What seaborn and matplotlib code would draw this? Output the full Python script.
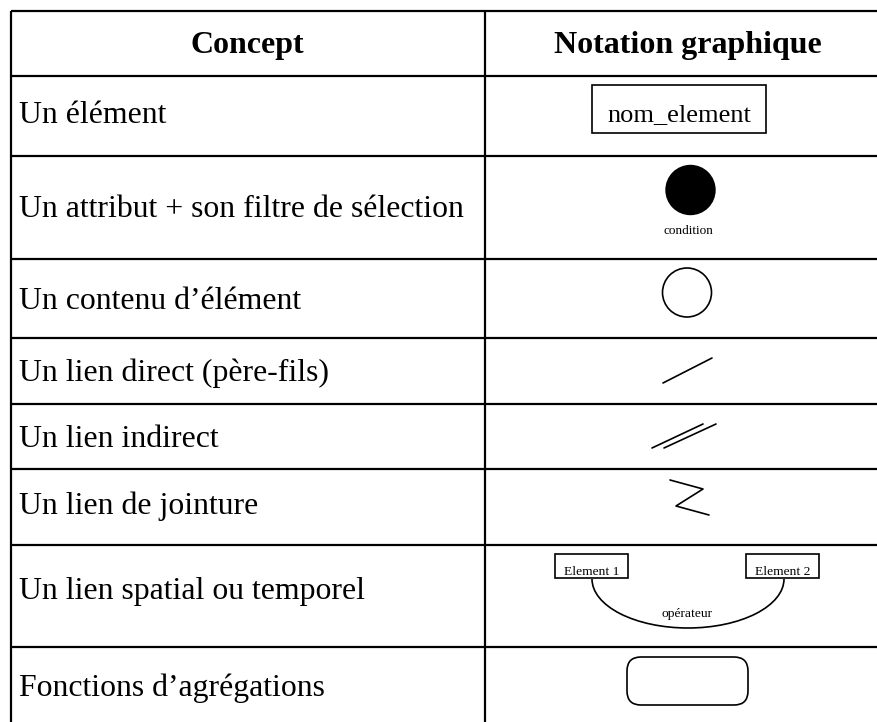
import matplotlib
matplotlib.use("Agg")
import matplotlib.pyplot as plt
import seaborn as sns
from matplotlib.patches import Rectangle, Circle, FancyBboxPatch, Arc

# ---- content ----
headers = ["Concept", "Notation graphique"]
concepts = [
    "Un élément",
    "Un attribut + son filtre de sélection",
    "Un contenu d\u2019élément",
    "Un lien direct (père-fils)",
    "Un lien indirect",
    "Un lien de jointure",
    "Un lien spatial ou temporel",
    "Fonctions d\u2019agrégations",
]
element_label = "nom_element"
condition_label = "condition"
spatial_labels = ["Element 1", "Element 2"]
operator_label = "opérateur"

# ---- layout (pixel coordinates) ----
W, H = 877, 722
row_edges = [11, 76, 156, 259, 338, 404, 469, 545, 647, 730]
x_left, x_mid, x_right = 11, 484.5, 891
baselines = [123, 217, 309, 381, 447, 514, 599, 696]
header_baseline = 53

sns.set_theme(style="white")
plt.rcParams['font.family'] = ['Liberation Serif', 'DejaVu Serif']
plt.rcParams['text.color'] = 'black'

fig = plt.figure(figsize=(W / 100, H / 100), dpi=100)
ax = fig.add_axes([0, 0, 1, 1])
ax.set_xlim(0, W)
ax.set_ylim(H, 0)
ax.axis("off")

LW = 1.6
for y in row_edges:
    ax.plot([x_left, x_right], [y, y], color="black", lw=LW, solid_capstyle="butt")
for x in (x_left, x_mid):
    ax.plot([x, x], [row_edges[0], row_edges[-1]], color="black", lw=LW, solid_capstyle="butt")

# headers
ax.text((x_left + x_mid) / 2, header_baseline, headers[0], ha="center", va="baseline",
        fontsize=23, fontweight="bold", color="black")
ax.text((x_mid + x_right) / 2, header_baseline, headers[1], ha="center", va="baseline",
        fontsize=23, fontweight="bold", color="black")

# concept texts
for txt, yb in zip(concepts, baselines):
    ax.text(19, yb, txt, ha="left", va="baseline", fontsize=22.9, color="black")

SLW = 1.2
# 1: element box
ax.add_patch(Rectangle((592, 85), 174, 48, fill=False, ec="black", lw=SLW))
ax.text(679, 121, element_label, ha="center", va="baseline", fontsize=19, color="black")

# 2: filled circle + condition
ax.add_patch(Circle((690.5, 190), 24.5, fc="black", ec="black"))
ax.text(688, 231, condition_label, ha="center", va="center", fontsize=9.5, color="black")

# 3: empty circle
ax.add_patch(Circle((687, 292.5), 24.5, fill=False, ec="black", lw=SLW))

# 4: direct link
ax.plot([663, 712], [383, 358], color="black", lw=SLW)

# 5: indirect link
ax.plot([652, 703], [448, 424], color="black", lw=SLW)
ax.plot([664, 716], [448, 424], color="black", lw=SLW)

# 6: join link
ax.plot([670, 703, 676, 709], [480, 489, 506, 515], color="black", lw=SLW)

# 7: spatial / temporal link
ax.add_patch(Arc((688, 579), 192, 98, theta1=0, theta2=180, color="black", lw=SLW))
ax.add_patch(Rectangle((555, 554), 73, 24, fc="white", ec="black", lw=SLW))
ax.add_patch(Rectangle((746, 554), 73, 24, fc="white", ec="black", lw=SLW))
ax.text(591.5, 575, spatial_labels[0], ha="center", va="baseline", fontsize=9.7, color="black")
ax.text(782.5, 575, spatial_labels[1], ha="center", va="baseline", fontsize=9.7, color="black")
ax.text(687, 617, operator_label, ha="center", va="baseline", fontsize=9.7, color="black")

# 8: aggregation rounded box
ax.add_patch(FancyBboxPatch((627, 657), 121, 48, boxstyle="round,pad=0,rounding_size=14",
                            fill=False, ec="black", lw=SLW))

fig.savefig("out.png", dpi=100, facecolor="white")
